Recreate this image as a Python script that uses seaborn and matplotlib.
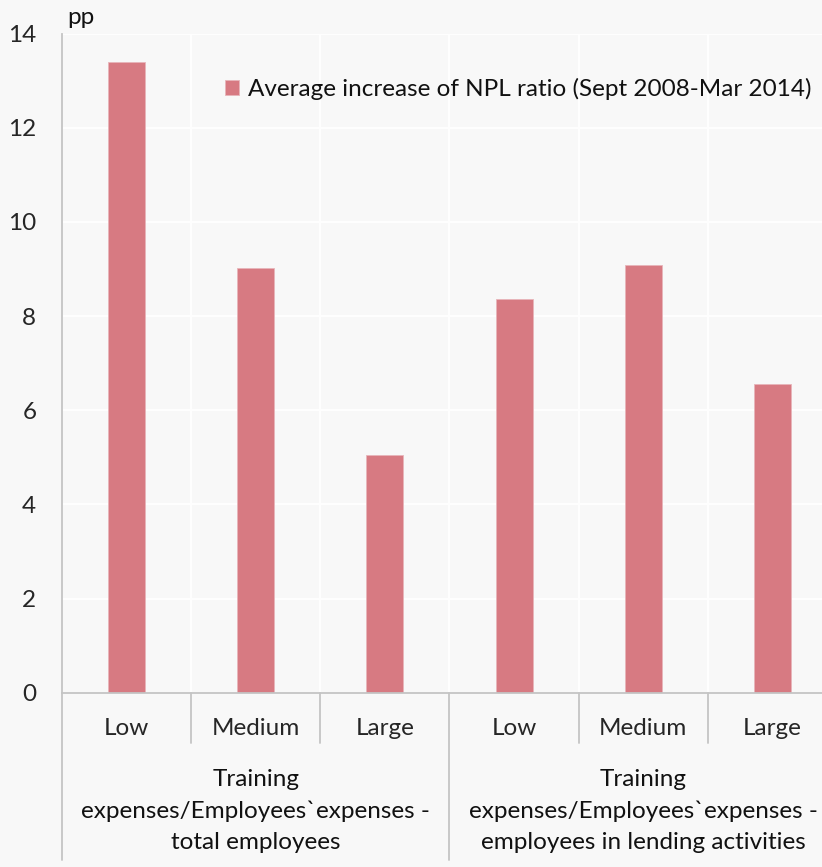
import matplotlib
matplotlib.use("Agg")
import matplotlib.pyplot as plt
import seaborn as sns
import pandas as pd

# Data: average increase of NPL ratio (pp) by training-expense bucket
groups = [
    "Training\nexpenses/Employees`expenses -\ntotal employees",
    "Training\nexpenses/Employees`expenses -\nemployees in lending activities",
]
levels = ["Low", "Medium", "Large"]
values_total = [13.40, 9.02, 5.06]
values_lending = [8.36, 9.08, 6.56]
series_name = "Average increase of NPL ratio (Sept 2008-Mar 2014)"
y_ticks = [0, 2, 4, 6, 8, 10, 12, 14]

rows = []
for g_idx, vals in enumerate([values_total, values_lending]):
    for lvl, v in zip(levels, vals):
        rows.append({"slot": f"{g_idx}-{lvl}", "level": lvl, "group": groups[g_idx],
                     "value": v, "series": series_name})
df = pd.DataFrame(rows)

BG = "#f8f8f8"
BAR = "#d77a82"
AXIS = "#c4c4c4"

sns.set_style("whitegrid", {
    "axes.facecolor": BG,
    "figure.facecolor": BG,
    "grid.color": "white",
    "axes.edgecolor": AXIS,
})
plt.rcParams["font.family"] = ["Lato", "DejaVu Sans"]
plt.rcParams["text.color"] = "#111111"

W, H = 822, 867
fig = plt.figure(figsize=(W / 100, H / 100), dpi=100)
x0, y_top, y_bot = 62, 33.7, 692.7
ax = fig.add_axes([x0 / W, (H - y_bot) / H, (W - x0) / W, (y_bot - y_top) / H])

sns.barplot(data=df, x="slot", y="value", hue="series", palette=[BAR],
            width=0.286, ax=ax, saturation=1, edgecolor="#e8b5ba", linewidth=0.6)

fs = 17.5
ax.set_ylim(0, 14)
ax.set_yticks(y_ticks)
ax.set_yticklabels([str(t) for t in y_ticks], fontsize=fs)
ax.set_xlim(-0.5, 5.5 - 15 / 129.2)
ax.set_xticks(range(len(df)))
ax.set_xticklabels(df["level"], fontsize=fs)
ax.tick_params(axis="x", length=0, pad=18)
ax.tick_params(axis="y", length=6.5, width=1, color=AXIS, pad=12)
ax.set_xlabel("")
ax.set_ylabel("")

# gridlines: horizontal at ticks, vertical at category boundaries
ax.grid(False)
for t in y_ticks[1:]:
    ax.axhline(t, color="white", lw=1.3, zorder=0)
for b in [0.5, 1.5, 2.5, 3.5, 4.5]:
    ax.axvline(b, color="white", lw=1.3, zorder=0)

for s in ["top", "right"]:
    ax.spines[s].set_visible(False)
ax.spines["left"].set_color(AXIS)
ax.spines["bottom"].set_color(AXIS)
ax.spines["left"].set_linewidth(1.3)
ax.spines["bottom"].set_linewidth(1.3)

# category separators below the axis
axes_h = y_bot - y_top
short_end = -(743 - y_bot) / axes_h
long_end = -(860 - y_bot) / axes_h
xt = ax.get_xaxis_transform()
for b in [0.5, 1.5, 3.5, 4.5]:
    ax.plot([b, b], [0, short_end], transform=xt, color=AXIS, lw=1.3, clip_on=False)
for b in [-0.5, 2.5]:
    ax.plot([b, b], [0, long_end], transform=xt, color=AXIS, lw=1.3, clip_on=False)

# group labels
gy = -(811 - y_bot) / axes_h
for g_idx, g in enumerate(groups):
    ax.text(1 + 3 * g_idx, gy, g, transform=xt, ha="center", va="center",
            fontsize=fs, linespacing=1.6)

# unit label
fig.text(67 / W, (H - 18) / H, "pp", fontsize=fs, ha="left", va="center")

leg = ax.legend(loc="upper right", bbox_to_anchor=(1.005, 0.955), frameon=False,
                fontsize=fs, handlelength=0.6, handleheight=0.6, handletextpad=0.35,
                borderaxespad=0.2)

fig.savefig("out.png", dpi=100, facecolor=BG)
